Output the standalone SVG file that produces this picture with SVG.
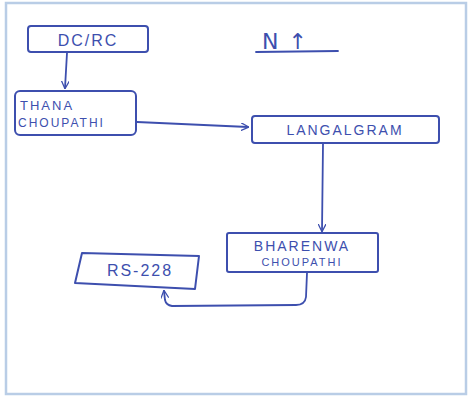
<svg xmlns="http://www.w3.org/2000/svg" width="473" height="401" viewBox="0 0 473 401">
<style>
.box{fill:none;stroke:#3d4fae;stroke-width:2;stroke-linejoin:round}
.ln{fill:none;stroke:#3d4fae;stroke-width:1.8;stroke-linecap:round}
.t{font-family:"Liberation Sans",Arial,sans-serif;fill:#3d4fae;letter-spacing:2px}
</style>
<defs>
<marker id="ah" viewBox="0 0 10 10" refX="9" refY="5" markerWidth="8" markerHeight="8" orient="auto" markerUnits="userSpaceOnUse">
<path d="M0,0 L10,5 L0,10" fill="none" stroke="#3d4fae" stroke-width="1.6"/>
</marker>
</defs>
<rect x="0" y="0" width="473" height="401" fill="#ffffff"/>
<rect x="6" y="3" width="460" height="391" fill="none" stroke="#b9cde6" stroke-width="2.5"/>
<g id="connectors">
<path class="ln" d="M67,53 L65,88" marker-end="url(#ah)"/>
<path class="ln" d="M137,122 L248,127" marker-end="url(#ah)"/>
<path class="ln" d="M323,144 L322,231" marker-end="url(#ah)"/>
<path class="ln" d="M307,273 L306,297 Q305,305 296,305 L172,306 Q166,305 165,300 L164,291" marker-end="url(#ah)"/>
</g>
<g id="north">
<text x="262" y="49" font-size="22" font-family="'DejaVu Sans',sans-serif" fill="#3d4fae" style="letter-spacing:10px">N↑</text>
<path class="ln" d="M256,52 L338,51"/>
</g>
<g id="dcrc">
<rect class="box" x="28" y="26" width="120" height="26" rx="3"/>
<text class="t" x="88" y="46" font-size="16" text-anchor="middle">DC/RC</text>
</g>
<g id="thana">
<rect class="box" x="15" y="91" width="121" height="44" rx="5"/>
<text class="t" x="20" y="110" font-size="13">THANA</text>
<text class="t" x="18" y="127" font-size="12">CHOUPATHI</text>
</g>
<g id="langalgram">
<rect class="box" x="252" y="116" width="187" height="27" rx="3"/>
<text class="t" x="345" y="135" font-size="14" text-anchor="middle">LANGALGRAM</text>
</g>
<g id="bharenwa">
<rect class="box" x="227" y="233" width="151" height="39" rx="2"/>
<text class="t" x="302" y="251" font-size="14" text-anchor="middle">BHARENWA</text>
<text class="t" x="302" y="266" font-size="11" text-anchor="middle">CHOUPATHI</text>
</g>
<g id="rs228">
<path class="box" d="M82,253 L199,256 L195,289 L75,283 Z"/>
<text class="t" x="140" y="276" font-size="16" text-anchor="middle">RS-228</text>
</g>
</svg>
